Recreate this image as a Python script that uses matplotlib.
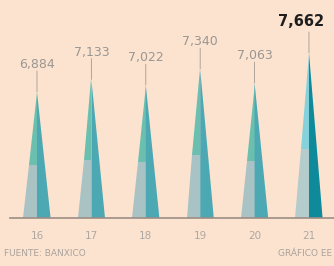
import matplotlib.pyplot as plt
from matplotlib.patches import Polygon

# datos: reservas por año
anios = ['16', '17', '18', '19', '20', '21']
valores = [6884, 7133, 7022, 7340, 7063, 7662]
etiquetas = ['6,884', '7,133', '7,022', '7,340', '7,063', '7,662']

fondo = '#fbe3d0'
fig = plt.figure(figsize=(3.34, 2.66), dpi=100, facecolor=fondo)
ax = fig.add_axes([0, 48 / 266, 1, 218 / 266])
ax.set_facecolor(fondo)
ax.set_xlim(-0.68, 5.46)
y0 = 4375
ax.set_ylim(y0, y0 + 218 * 19.9)
ax.axis('off')

media = 0.25   # medio ancho de la base
corte = 0.42   # fraccion de altura donde cambia el color del lado izquierdo

for i, v in enumerate(valores):
    ultimo = i == len(valores) - 1
    izq_abajo = '#b5cccc' if ultimo else '#a9c3c5'
    izq_arriba = '#86d2dc' if ultimo else '#6bbfae'
    der = '#0f8a9a' if ultimo else '#4ca8b3'
    yc = y0 + (v - y0) * corte
    xc = media * (1 - corte)
    ax.add_patch(Polygon([(i - media, y0), (i, y0), (i, yc), (i - xc, yc)],
                         closed=True, fc=izq_abajo, ec='none'))
    ax.add_patch(Polygon([(i - xc, yc), (i, yc), (i, v)],
                         closed=True, fc=izq_arriba, ec='none'))
    ax.add_patch(Polygon([(i, y0), (i + media, y0), (i, v)],
                         closed=True, fc=der, ec='none'))
    # linea fina hacia la etiqueta
    ax.annotate('', xy=(i, v), xytext=(0, 15), textcoords='offset points',
                arrowprops=dict(arrowstyle='-', color='#a39a92', lw=0.6,
                                shrinkA=0, shrinkB=0))
    if ultimo:
        ax.annotate(etiquetas[i], xy=(i, v), xytext=(-6, 17),
                    textcoords='offset points', ha='center', va='bottom',
                    fontsize=10.5, fontweight='bold', color='#1e1e1e')
    else:
        ax.annotate(etiquetas[i], xy=(i, v), xytext=(0, 15),
                    textcoords='offset points', ha='center', va='bottom',
                    fontsize=9, color='#9b9692')

# linea base
ax.axhline(y0, xmin=10 / 334, xmax=1, color='#9c8d84', lw=1.2, clip_on=False)

# etiquetas del eje x
for i, a in enumerate(anios):
    ax.text(i, -18 / 218, a, transform=ax.get_xaxis_transform(),
            ha='center', va='center', fontsize=7.5, color='#aea7a2')

fig.text(4 / 334, 1 - 254 / 266, 'FUENTE: BANXICO', fontsize=6.5,
         color='#aaa29c', va='center', ha='left')
fig.text(332 / 334, 1 - 254 / 266, 'GRÁFICO EE', fontsize=6.5,
         color='#aaa29c', va='center', ha='right')

fig.savefig('out.png', dpi=100, facecolor=fondo)
